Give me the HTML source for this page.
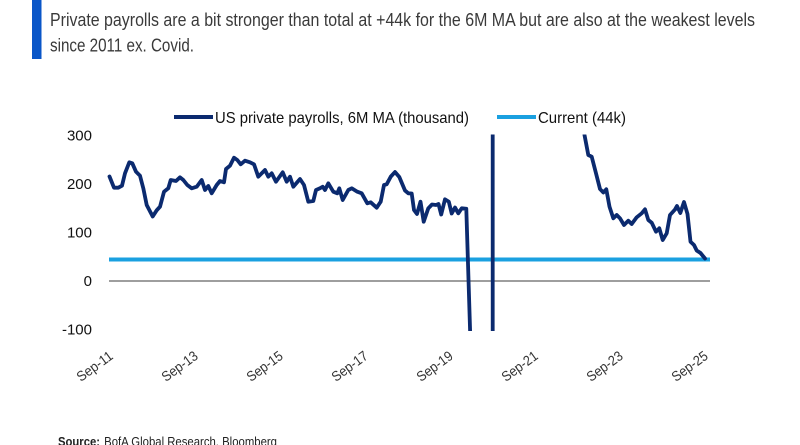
<!DOCTYPE html>
<html>
<head>
<meta charset="utf-8">
<style>
  html, body { margin: 0; padding: 0; background: #ffffff; }
  body { width: 800px; height: 445px; overflow: hidden; }
  svg { display: block; }
  text { font-family: "Liberation Sans", Arial, sans-serif; }
</style>
</head>
<body>
<svg width="800" height="445" viewBox="0 0 800 445" xmlns="http://www.w3.org/2000/svg">
  <defs>
    <clipPath id="plot">
      <rect x="100" y="134.5" width="620" height="196.5"/>
    </clipPath>
  </defs>

  <!-- header -->
  <rect x="32" y="0" width="9.5" height="59" fill="#0a56c8"/>
  <text x="50" y="26" font-size="18" fill="#3a3a3a" textLength="705" lengthAdjust="spacingAndGlyphs">Private payrolls are a bit stronger than total at +44k for the 6M MA but are also at the weakest levels</text>
  <text x="50" y="51.5" font-size="18" fill="#3a3a3a" textLength="144" lengthAdjust="spacingAndGlyphs">since 2011 ex. Covid.</text>

  <!-- legend -->
  <line x1="174" y1="117" x2="213" y2="117" stroke="#0b2a6f" stroke-width="4"/>
  <text x="215" y="123" font-size="16" fill="#111" textLength="254" lengthAdjust="spacingAndGlyphs">US private payrolls, 6M MA (thousand)</text>
  <line x1="497" y1="117" x2="536" y2="117" stroke="#1aa0e0" stroke-width="4"/>
  <text x="538" y="123" font-size="16" fill="#111" textLength="88" lengthAdjust="spacingAndGlyphs">Current (44k)</text>

  <!-- y axis labels -->
  <g font-size="15" fill="#111" text-anchor="end">
    <text x="92" y="140.5">300</text>
    <text x="92" y="189">200</text>
    <text x="92" y="237.5">100</text>
    <text x="92" y="286">0</text>
    <text x="92" y="334.5">-100</text>
  </g>

  <!-- zero line -->
  <line x1="109" y1="281" x2="710" y2="281" stroke="#7f7f7f" stroke-width="1.5"/>

  <!-- current line -->
  <line x1="109" y1="259.5" x2="710" y2="259.5" stroke="#1aa0e0" stroke-width="4"/>

  <!-- series -->
  <g clip-path="url(#plot)">
    <path fill="none" stroke="#0b2a6f" stroke-width="3.8" stroke-linejoin="round" stroke-linecap="round"
      d="M109.5,176.5 L114,187.7 L118.3,187.7 L122,185.7 L125,173.3 L129.3,162.3 L132.3,163.3 L136,171.7 L140,175.7 L143.3,188.3 L146.7,205 L152.7,216.5 L156.7,210.3 L160,206.7 L164,191.7 L168.3,188.3 L170.7,180 L176,181 L180,177.3 L183.3,180 L187.3,185 L191.7,188.3 L196.7,186.7 L201.7,180 L205,190 L208.3,186 L211.7,193.3 L216.7,185 L220,181 L224,182.3 L226,169 L230,165.7 L234,157.7 L237.3,160 L240.7,164.3 L245,160.7 L250,162.3 L254,164.3 L258.3,176.7 L265,170 L268.3,176.7 L271.7,173.3 L276,181.7 L282.7,172.3 L286.7,181.7 L290,176.7 L293.3,186.7 L300,179 L304,185 L308.3,201.7 L313.3,201 L316,190 L320,188.3 L322.7,186.7 L325,190 L328.3,183.3 L333.3,191.7 L337.3,193.3 L339.3,188.3 L342.7,200 L348.3,190 L351.7,188.3 L357.3,191.7 L361.7,193.3 L367.3,203.3 L370.7,202.3 L376.7,207.7 L380.7,201.7 L384,185 L386.7,184.3 L390.7,176.7 L395,172 L399.3,177 L405,190.5 L408.3,193.3 L411.7,193.5 L414,210 L417,214 L420.5,201.7 L423.7,221.7 L428.3,208.3 L432,204.5 L436,205 L438.5,204 L441.2,214.5 L445,199.3 L448.8,201.7 L451.7,213.5 L455,207.5 L458.3,213.3 L461.7,208.3 L466.3,208.8 L471,360
         M492.7,360 L492.7,110
         M582.5,110 L584.5,135 L588.3,155 L591.7,156.7 L596,173.3 L600,189 L603.3,192.5 L606.3,189.3 L609.5,206.7 L613.3,218.3 L616.7,215 L620,218.3 L624,225 L628.3,220.7 L631.7,224 L636.7,217.3 L641.7,213.3 L645,209.3 L648.3,220 L651.7,222.7 L656,231.7 L659.3,228.3 L662.7,240 L666.7,233.3 L670,215 L675,209.5 L677,206 L680.3,213 L684,202 L687.5,214 L690.5,241.7 L694,245 L696.7,250.5 L700.5,253 L705,258.5"/>
  </g>

  <!-- x axis labels -->
  <g font-size="14" fill="#333" text-anchor="end">
    <text transform="translate(114,358) rotate(-36)" textLength="41" lengthAdjust="spacingAndGlyphs">Sep-11</text>
    <text transform="translate(199,358) rotate(-36)" textLength="41" lengthAdjust="spacingAndGlyphs">Sep-13</text>
    <text transform="translate(284,358) rotate(-36)" textLength="41" lengthAdjust="spacingAndGlyphs">Sep-15</text>
    <text transform="translate(369,358) rotate(-36)" textLength="41" lengthAdjust="spacingAndGlyphs">Sep-17</text>
    <text transform="translate(454,358) rotate(-36)" textLength="41" lengthAdjust="spacingAndGlyphs">Sep-19</text>
    <text transform="translate(539,358) rotate(-36)" textLength="41" lengthAdjust="spacingAndGlyphs">Sep-21</text>
    <text transform="translate(624,358) rotate(-36)" textLength="41" lengthAdjust="spacingAndGlyphs">Sep-23</text>
    <text transform="translate(709,358) rotate(-36)" textLength="41" lengthAdjust="spacingAndGlyphs">Sep-25</text>
  </g>

  <!-- source -->
  <text x="58" y="446" font-size="13" fill="#222"><tspan font-weight="bold" textLength="42" lengthAdjust="spacingAndGlyphs">Source:</tspan><tspan x="101" textLength="176" lengthAdjust="spacingAndGlyphs"> BofA Global Research, Bloomberg</tspan></text>
</svg>
</body>
</html>
